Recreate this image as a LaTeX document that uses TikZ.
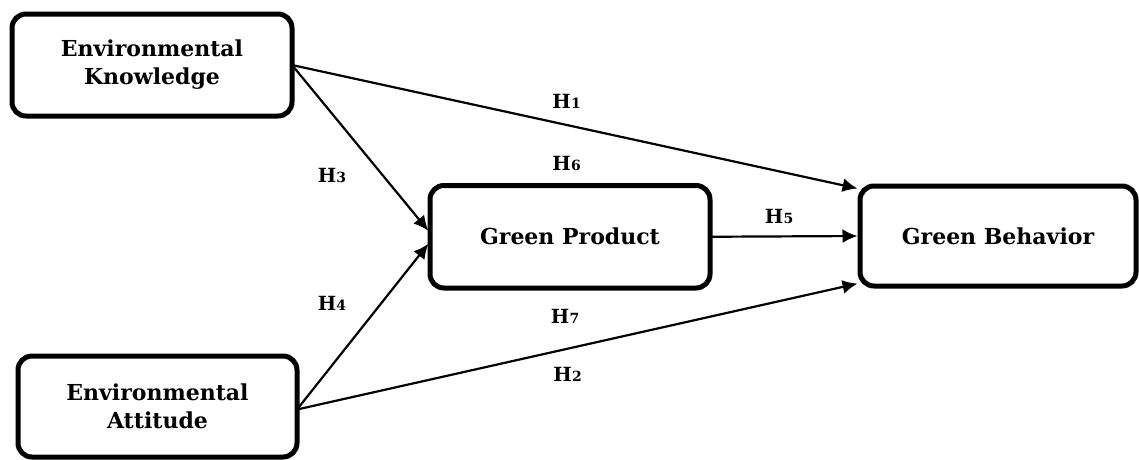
\documentclass[tikz,border=0pt]{standalone}
\usepackage{fontspec}
\setmainfont{DejaVu Serif}
\usetikzlibrary{arrows.meta}
\tikzset{
  box/.style={draw=black, line width=5pt, rounded corners=14pt, inner sep=0pt, outer sep=0pt,
    align=center, font=\fontsize{22}{28}\selectfont\bfseries},
  conn/.style={line width=2.2pt, -{Latex[length=15pt,width=14pt]}, shorten >=2.5pt},
  hlab/.style={anchor=base, inner sep=0pt, font=\fontsize{19.5}{22}\selectfont\bfseries}
}
\newcommand{\hyp}[1]{H\kern0.3pt{\fontsize{14}{16}\selectfont #1}}
\begin{document}
\begin{tikzpicture}[x=1pt,y=-1pt]
\useasboundingbox (0,0) rectangle (1139,459);
\node[box, minimum width=280pt, minimum height=102pt] (ek) at (152,65) {Environmental\\Knowledge};
\node[box, minimum width=279pt, minimum height=101pt] (ea) at (157.5,406.5) {Environmental\\Attitude};
\node[box, minimum width=280pt, minimum height=102.5pt] (gp) at (570,236.75) {Green Product};
\node[box, minimum width=276pt, minimum height=100pt] (gb) at (998,236) {Green Behavior};
\draw[conn] (ek.east) -- ([yshift=-3pt]gb.north west);
\draw[conn] (ek.east) -- ([yshift=4pt]gp.west);
\draw[conn] ([yshift=-3pt]ea.east) -- ([yshift=-5pt]gp.west);
\draw[conn] ([yshift=-3pt]ea.east) -- ([yshift=3pt]gb.south west);
\draw[conn] (gp.east) -- (gb.west);
\node[hlab] (h1) at (566.5,108) {\hyp{1}};
\node[hlab] (h6) at (566.5,170) {\hyp{6}};
\node[hlab] (h3) at (332,182) {\hyp{3}};
\node[hlab] (h4) at (332,310) {\hyp{4}};
\node[hlab] (h7) at (565,323) {\hyp{7}};
\node[hlab] (h2) at (567.5,381) {\hyp{2}};
\node[hlab] (h5) at (779,223) {\hyp{5}};
\end{tikzpicture}
\end{document}
